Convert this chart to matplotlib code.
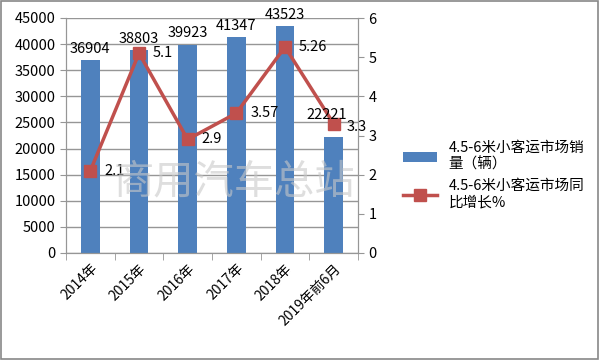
import matplotlib.pyplot as plt
import numpy as np

plt.rcParams['font.family'] = ['Noto Sans CJK SC', 'DejaVu Sans']

categories = ['2014年', '2015年', '2016年', '2017年', '2018年', '2019年前6月']
sales = [36904, 38803, 39923, 41347, 43523, 22221]
growth = [2.1, 5.1, 2.9, 3.57, 5.26, 3.3]
sales_name = '4.5-6米小客运市场销\n量（辆）'
growth_name = '4.5-6米小客运市场同\n比增长%'

bar_color = '#4F81BD'
line_color = '#C0504D'
grid_color = '#969696'

fig = plt.figure(figsize=(6, 3.6), dpi=100)
ax = fig.add_axes([66 / 600, 1 - 253 / 360, 292 / 600, 235 / 360])
ax2 = ax.twinx()

x = np.arange(len(categories))
bars = ax.bar(x, sales, width=0.38, color=bar_color, zorder=2, label=sales_name)
ax.set_xlim(-0.5, len(categories) - 0.5)
ax.set_ylim(0, 45000)
ax.set_yticks(np.arange(0, 45001, 5000))
ax.grid(axis='y', color=grid_color, linewidth=1, zorder=0)
ax.set_axisbelow(True)

ax.set_xticks(x)
ax.set_xticklabels(categories, rotation=45, ha='right', rotation_mode='anchor', fontsize=10)
ax.set_xticks(np.arange(-0.5, len(categories)), minor=True)
ax.tick_params(axis='x', which='major', length=0, pad=6)
ax.tick_params(axis='x', which='minor', length=5, color=grid_color)
ax.tick_params(axis='y', length=4, color=grid_color, labelsize=10.5)

line, = ax2.plot(x, growth, color=line_color, linewidth=2.5, marker='s',
                 markersize=9, zorder=3, label=growth_name)
ax2.set_ylim(0, 6)
ax2.set_yticks(range(0, 7))
ax2.tick_params(axis='y', length=4, color=grid_color, labelsize=10.5)

# bar labels drawn on ax2 so they sit above the line markers
for xi, v in zip(x, sales):
    off = (-5, 11) if xi == len(sales) - 1 else (0, 3)
    ax2.annotate(str(v), (xi, v / 45000 * 6), xytext=off, textcoords='offset points',
                 ha='center', va='bottom', fontsize=10.5, zorder=5)

for xi, v in zip(x, growth):
    off = (9, -2) if xi == len(growth) - 1 else (10, 0)
    ax2.annotate(f'{v:g}', (xi, v), xytext=off, textcoords='offset points',
                 ha='left', va='center', fontsize=10.5, zorder=5)

for a in (ax, ax2):
    for s in a.spines.values():
        s.set_color(grid_color)
    a.spines['top'].set_visible(False)

fig.text(0.39, 0.495, '商用汽车总站', fontsize=29, color='#c8c8c8', alpha=0.6,
         ha='center', va='center', zorder=10)

fig.legend([bars, line], [sales_name, growth_name], loc='upper left',
           bbox_to_anchor=(390 / 600, 1 - 128 / 360), frameon=False, fontsize=10.5,
           handlelength=2.3, labelspacing=0.5)

fig.patches.append(plt.Rectangle((0.002, 0.003), 0.995, 0.994, transform=fig.transFigure,
                                 fill=False, edgecolor='#888888', linewidth=1.2))

fig.savefig('out.png', dpi=100)
